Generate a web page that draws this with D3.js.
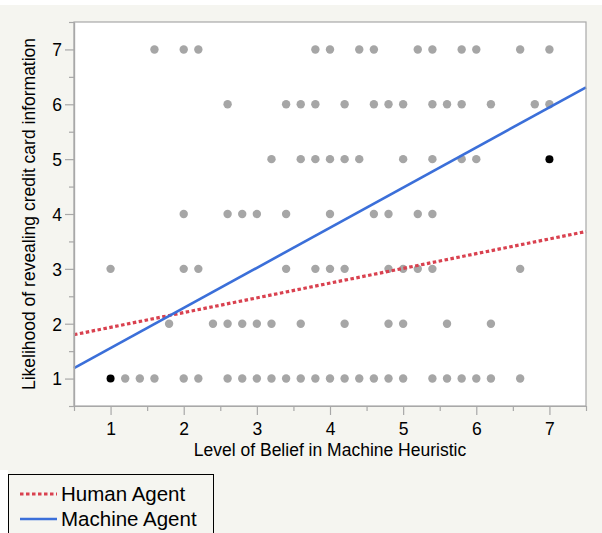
<!DOCTYPE html>
<html>
<head>
<meta charset="utf-8">
<script src="https://cdn.jsdelivr.net/npm/d3@7"></script>
<style>
  html, body { margin: 0; padding: 0; background: #ffffff; }
  svg { display: block; font-family: "Liberation Sans", Arial, Helvetica, sans-serif; }
</style>
</head>
<body>
<svg id="chart" width="602" height="533"></svg>
<script>
// ---- Data ----
const xTickValues = [1, 2, 3, 4, 5, 6, 7];
const yTickValues = [1, 2, 3, 4, 5, 6, 7];
const xTitle = "Level of Belief in Machine Heuristic";
const yTitle = "Likelihood of revealing credit card information";

// grey observations, by response level (y) -> belief values (x)
const row7 = [1.6, 2.0, 2.2, 3.8, 4.0, 4.4, 4.6, 5.2, 5.4, 5.8, 6.0, 6.6, 7.0];
const row6 = [2.6, 3.4, 3.6, 3.8, 4.2, 4.6, 4.8, 5.0, 5.4, 5.6, 5.8, 6.2, 6.8, 7.0];
const row5 = [3.2, 3.6, 3.8, 4.0, 4.2, 4.4, 5.0, 5.4, 5.8, 6.0];
const row4 = [2.0, 2.6, 2.8, 3.0, 3.4, 4.0, 4.6, 4.8, 5.2, 5.4];
const row3 = [1.0, 2.0, 2.2, 3.4, 3.8, 4.0, 4.2, 4.8, 5.0, 5.2, 5.4, 6.6];
const row2 = [1.8, 2.4, 2.6, 2.8, 3.0, 3.2, 3.6, 4.2, 4.8, 5.0, 5.6, 6.2];
const row1 = [1.2, 1.4, 1.6, 2.0, 2.2, 2.6, 2.8, 3.0, 3.2, 3.4, 3.6, 3.8, 4.0, 4.2, 4.4, 4.6, 4.8, 5.0, 5.4, 5.6, 5.8, 6.0, 6.2, 6.6];
const rowLevels = [7, 6, 5, 4, 3, 2, 1];
const rows = [row7, row6, row5, row4, row3, row2, row1];

// black (highlighted) observations
const blackX = [1, 7];
const blackY = [1, 5];

// fitted lines (endpoints at the axis limits)
const humanLineX = [0.5, 7.5];
const humanLineY = [1.80, 3.68];
const machineLineX = [0.5, 7.5];
const machineLineY = [1.19, 6.31];

const legendLabels = ["Human Agent", "Machine Agent"];

// ---- Layout ----
const svg = d3.select("#chart");
const W = 602, H = 533;
const plot = { left: 74, top: 22, right: 586, bottom: 406 };

const x = d3.scaleLinear().domain([0.5, 7.5]).range([plot.left, plot.right]);
const y = d3.scaleLinear().domain([0.5, 7.5]).range([plot.bottom, plot.top]);

// backgrounds
svg.append("rect").attr("x", 0).attr("y", 0).attr("width", W).attr("height", H).attr("fill", "#ffffff");
svg.append("rect").attr("x", 0).attr("y", 5).attr("width", W).attr("height", 465).attr("fill", "#f5f5f0");
svg.append("rect").attr("x", 8).attr("y", 469).attr("width", W - 8).attr("height", H - 469).attr("fill", "#f5f5f0");
svg.append("rect")
  .attr("x", plot.left).attr("y", plot.top)
  .attr("width", plot.right - plot.left).attr("height", plot.bottom - plot.top)
  .attr("fill", "#ffffff");

// points
const pts = [];
rows.forEach((r, i) => r.forEach(v => pts.push([v, rowLevels[i]])));
svg.append("g").selectAll("circle").data(pts).join("circle")
  .attr("cx", d => x(d[0])).attr("cy", d => y(d[1]))
  .attr("r", 4.2).attr("fill", "#a6a6a6");

svg.append("g").selectAll("circle").data(blackX.map((v, i) => [v, blackY[i]])).join("circle")
  .attr("cx", d => x(d[0])).attr("cy", d => y(d[1]))
  .attr("r", 4).attr("fill", "#000000");

// lines
const line = d3.line().x(d => x(d[0])).y(d => y(d[1]));
svg.append("path")
  .datum(humanLineX.map((v, i) => [v, humanLineY[i]]))
  .attr("d", line).attr("fill", "none")
  .attr("stroke", "#d9414f").attr("stroke-width", 3.2)
  .attr("stroke-dasharray", "3.5,2.5");
svg.append("path")
  .datum(machineLineX.map((v, i) => [v, machineLineY[i]]))
  .attr("d", line).attr("fill", "none")
  .attr("stroke", "#3b6fd9").attr("stroke-width", 2.6);

// frame
svg.append("rect")
  .attr("x", plot.left).attr("y", plot.top)
  .attr("width", plot.right - plot.left).attr("height", plot.bottom - plot.top)
  .attr("fill", "none").attr("stroke", "#a8a8a8").attr("stroke-width", 1.2);

// axes
const halfTicks = d3.range(0.5, 7.51, 0.5).filter(v => v % 1 !== 0);
const fontSize = 17.5;

const xMinor = d3.axisBottom(x).tickValues(halfTicks).tickSize(5).tickSizeOuter(0).tickFormat("");
const xMajor = d3.axisBottom(x).tickValues(xTickValues).tickSize(9).tickSizeOuter(0).tickPadding(8).tickFormat(d3.format("d"));
const yMinor = d3.axisLeft(y).tickValues(halfTicks).tickSize(5).tickSizeOuter(0).tickFormat("");
const yMajor = d3.axisLeft(y).tickValues(yTickValues).tickSize(9).tickSizeOuter(0).tickPadding(3).tickFormat(d3.format("d"));

function styleAxis(g) {
  g.select(".domain").attr("stroke", "#a8a8a8").attr("stroke-width", 1.2);
  g.selectAll(".tick line").attr("stroke", "#a8a8a8").attr("stroke-width", 1.2);
  g.selectAll(".tick text").attr("fill", "#000").style("font-size", fontSize + "px")
    .style("font-family", '"Liberation Sans", Arial, sans-serif');
}
svg.append("g").attr("transform", `translate(0,${plot.bottom})`).call(xMinor).call(styleAxis);
svg.append("g").attr("transform", `translate(0,${plot.bottom})`).call(xMajor).call(styleAxis);
svg.append("g").attr("transform", `translate(${plot.left},0)`).call(yMinor).call(styleAxis);
svg.append("g").attr("transform", `translate(${plot.left},0)`).call(yMajor).call(styleAxis)
  .selectAll(".tick text").attr("dy", "0.36em");

// titles
svg.append("text")
  .attr("x", (plot.left + plot.right) / 2).attr("y", 456)
  .attr("text-anchor", "middle").style("font-size", fontSize + "px").attr("fill", "#000")
  .text(xTitle);
svg.append("text")
  .attr("transform", `translate(34.5,${(plot.top + plot.bottom) / 2}) rotate(-90)`)
  .attr("text-anchor", "middle").style("font-size", fontSize + "px").attr("fill", "#000")
  .text(yTitle);

// legend
const lg = svg.append("g");
lg.append("rect").attr("x", 8.5).attr("y", 474.5).attr("width", 205).attr("height", 70)
  .attr("fill", "none").attr("stroke", "#000").attr("stroke-width", 1);
const legendStyles = [
  { stroke: "#d9414f", width: 3.2, dash: "3.5,2.5" },
  { stroke: "#3b6fd9", width: 2.6, dash: null }
];
legendLabels.forEach((lab, i) => {
  const cy = 494 + i * 25;
  lg.append("line").attr("x1", 20).attr("x2", 57).attr("y1", cy).attr("y2", cy)
    .attr("stroke", legendStyles[i].stroke).attr("stroke-width", legendStyles[i].width)
    .attr("stroke-dasharray", legendStyles[i].dash);
  lg.append("text").attr("x", 61).attr("y", cy + 7).style("font-size", "20.5px").attr("fill", "#000")
    .text(lab);
});
</script>
</body>
</html>
